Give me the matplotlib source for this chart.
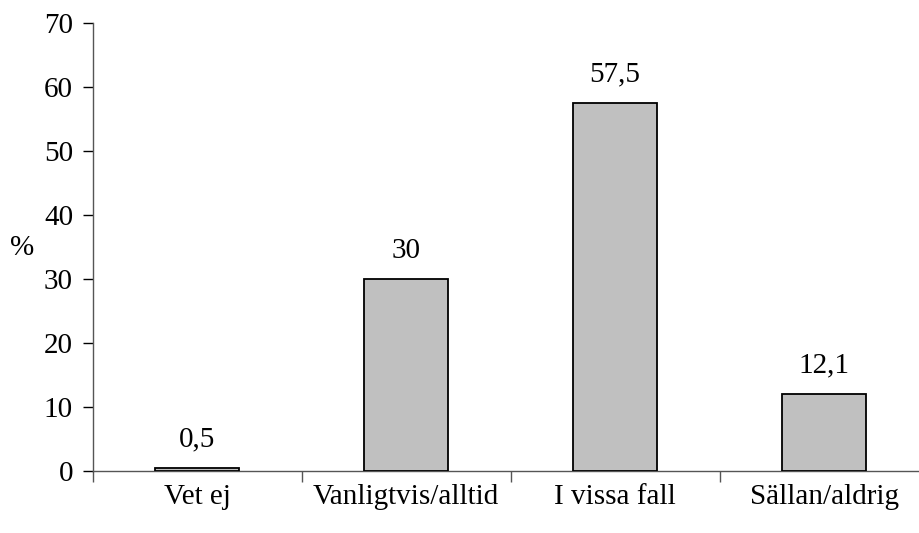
import numpy as np
import matplotlib.pyplot as plt

categories = ["Vet ej", "Vanligtvis/alltid", "I vissa fall", "Sällan/aldrig"]
values = [0.5, 30, 57.5, 12.1]
value_labels = ["0,5", "30", "57,5", "12,1"]
y_ticks = [0, 10, 20, 30, 40, 50, 60, 70]

plt.rcParams['font.family'] = ['Liberation Serif', 'DejaVu Serif']
FS = 21

fig = plt.figure(figsize=(9.19, 5.33), dpi=100)
W, H = 919, 533
ax = fig.add_axes([92.5 / W, 62 / H, (928.5 - 92.5) / W, (471 - 23) / H])

x = np.arange(len(categories))
ax.bar(x, values, width=0.4, color='#c0c0c0', edgecolor='black', linewidth=1.3, zorder=3)

for xi, v, lab in zip(x, values, value_labels):
    ax.annotate(lab, (xi, v), xytext=(0, 11), textcoords='offset points',
                ha='center', va='bottom', fontsize=FS)

ax.set_xlim(-0.5, len(categories) - 0.5)
ax.set_ylim(0, 70)
ax.set_yticks(y_ticks)
ax.set_yticklabels([str(t) for t in y_ticks], fontsize=FS)

# category boundaries as ticks, labels centered under bars
ax.set_xticks(np.arange(-0.5, len(categories) - 0.5, 1.0))
ax.set_xticklabels([])
ax.set_xticks(x, minor=True)
ax.set_xticklabels(categories, minor=True, fontsize=FS)
ax.tick_params(axis='x', which='major', direction='out', length=8, width=1, color='#555555')
ax.tick_params(axis='x', which='minor', length=0, pad=9)
ax.tick_params(axis='y', direction='out', length=7, width=1, pad=7)

for s in ['top', 'right']:
    ax.spines[s].set_visible(False)
ax.spines['left'].set_color('#555555')
ax.spines['bottom'].set_color('#555555')
ax.spines['left'].set_linewidth(1)
ax.spines['bottom'].set_linewidth(1)

fig.text(22 / W, 1 - 248 / H, "%", fontsize=FS, ha='center', va='center')

fig.savefig('out.png', dpi=100)
